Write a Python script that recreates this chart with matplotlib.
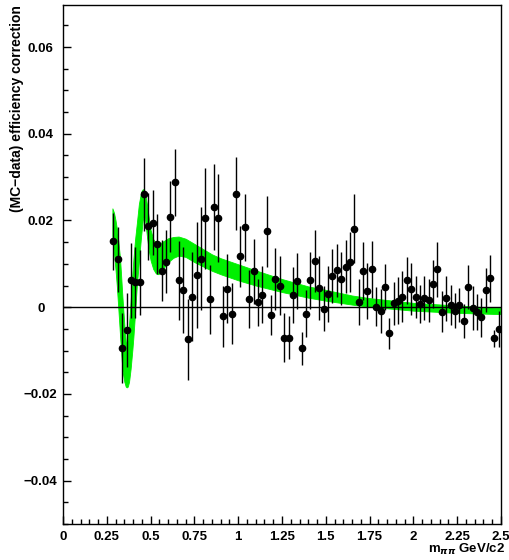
"""
(MC - data) efficiency correction vs m_pipi, with fitted correction band.
"""

import matplotlib
matplotlib.use('Agg')
import matplotlib.pyplot as plt
import matplotlib.ticker as mticker

# ── Data ───────────────────────────────────────────────────────────────────────
mass = [0.2875, 0.3125, 0.3375, 0.3625, 0.3875, 0.4125, 0.4375, 0.4625, 0.4875, 0.5125,
        0.5375, 0.5625, 0.5875, 0.6125, 0.6375, 0.6625, 0.6875, 0.7125, 0.7375, 0.7625,
        0.7875, 0.8125, 0.8375, 0.8625, 0.8875, 0.9125, 0.9375, 0.9625, 0.9875, 1.0125,
        1.0375, 1.0625, 1.0875, 1.1125, 1.1375, 1.1625, 1.1875, 1.2125, 1.2375, 1.2625,
        1.2875, 1.3125, 1.3375, 1.3625, 1.3875, 1.4125, 1.4375, 1.4625, 1.4875, 1.5125,
        1.5375, 1.5625, 1.5875, 1.6125, 1.6375, 1.6625, 1.6875, 1.7125, 1.7375, 1.7625,
        1.7875, 1.8125, 1.8375, 1.8625, 1.8875, 1.9125, 1.9375, 1.9625, 1.9875, 2.0125,
        2.0375, 2.0625, 2.0875, 2.1125, 2.1375, 2.1625, 2.1875, 2.2125, 2.2375, 2.2625,
        2.2875, 2.3125, 2.3375, 2.3625, 2.3875, 2.4125, 2.4375, 2.4625, 2.4875]

corr = [0.0152, 0.0111, -0.0094, -0.0053, 0.0062, 0.0057, 0.0057, 0.0260, 0.0187, 0.0195,
        0.0145, 0.0084, 0.0105, 0.0209, 0.0288, 0.0062, 0.0039, -0.0074, 0.0024, 0.0074,
        0.0112, 0.0205, 0.0018, 0.0231, 0.0206, -0.0021, 0.0043, -0.0015, 0.0262, 0.0117,
        0.0184, 0.0018, 0.0083, 0.0011, 0.0029, 0.0175, -0.0018, 0.0065, 0.0050, -0.0070,
        -0.0070, 0.0028, 0.0060, -0.0095, -0.0015, 0.0062, 0.0106, 0.0044, -0.0004, 0.0030,
        0.0072, 0.0085, 0.0066, 0.0093, 0.0104, 0.0181, 0.0011, 0.0083, 0.0037, 0.0087,
        0.0001, -0.0008, 0.0047, -0.0060, 0.0009, 0.0015, 0.0024, 0.0062, 0.0043, 0.0023,
        0.0008, 0.0021, 0.0016, 0.0054, 0.0087, -0.0010, 0.0021, 0.0005, -0.0008, 0.0005,
        -0.0032, 0.0047, -0.0002, -0.0011, -0.0023, 0.0039, 0.0067, -0.0072, -0.0050]

corr_err = [0.0066, 0.0075, 0.0080, 0.0086, 0.0086, 0.0083, 0.0076, 0.0085, 0.0077, 0.0075,
            0.0069, 0.0070, 0.0073, 0.0082, 0.0078, 0.0091, 0.0099, 0.0094, 0.0103, 0.0122,
            0.0119, 0.0117, 0.0079, 0.0100, 0.0102, 0.0070, 0.0079, 0.0070, 0.0085, 0.0070,
            0.0077, 0.0067, 0.0075, 0.0055, 0.0066, 0.0082, 0.0046, 0.0072, 0.0068, 0.0056,
            0.0050, 0.0064, 0.0065, 0.0038, 0.0054, 0.0065, 0.0071, 0.0073, 0.0052, 0.0065,
            0.0063, 0.0061, 0.0061, 0.0061, 0.0069, 0.0080, 0.0053, 0.0067, 0.0064, 0.0066,
            0.0045, 0.0051, 0.0053, 0.0036, 0.0050, 0.0054, 0.0059, 0.0054, 0.0060, 0.0049,
            0.0044, 0.0050, 0.0050, 0.0056, 0.0064, 0.0047, 0.0052, 0.0047, 0.0040, 0.0039,
            0.0040, 0.0051, 0.0050, 0.0041, 0.0045, 0.0051, 0.0054, 0.0020, 0.0042]

# correction band (lower / upper edge)
band_x = [0.282, 0.291, 0.300, 0.307, 0.316, 0.326, 0.331, 0.339, 0.350, 0.358,
          0.364, 0.370, 0.377, 0.386, 0.396, 0.402, 0.411, 0.421, 0.433, 0.446,
          0.455, 0.462, 0.469, 0.480, 0.490, 0.500, 0.515, 0.530, 0.545, 0.560,
          0.580, 0.600, 0.630, 0.660, 0.700, 0.750, 0.800, 0.850, 0.900, 1.000,
          1.100, 1.250, 1.400, 1.500, 1.650, 1.750, 2.000, 2.250, 2.500]
band_lo = [0.0165, 0.0125, 0.0085, 0.0050, -0.0005, -0.0068, -0.0098, -0.0145, -0.0172, -0.0183,
           -0.0185, -0.0183, -0.0172, -0.0142, -0.0098, -0.0068, -0.0015, 0.0048, 0.0105, 0.0165,
           0.0200, 0.0212, 0.0200, 0.0160, 0.0130, 0.0108, 0.0088, 0.0078, 0.0076, 0.0083,
           0.0094, 0.0104, 0.0114, 0.0119, 0.0116, 0.0104, 0.0094, 0.0084, 0.0076, 0.0062,
           0.0050, 0.0035, 0.0022, 0.0015, 0.0006, 0.0001, -0.0008, -0.0013, -0.0016]
band_hi = [0.0228, 0.0218, 0.0200, 0.0182, 0.0152, 0.0110, 0.0078, 0.0025, -0.0040, -0.0078,
           -0.0092, -0.0072, -0.0040, 0.0015, 0.0078, 0.0112, 0.0155, 0.0192, 0.0238, 0.0266,
           0.0272, 0.0272, 0.0262, 0.0235, 0.0205, 0.0178, 0.0157, 0.0148, 0.0146, 0.0149,
           0.0154, 0.0159, 0.0162, 0.0163, 0.0158, 0.0146, 0.0134, 0.0122, 0.0113, 0.0099,
           0.0085, 0.0065, 0.0048, 0.0040, 0.0027, 0.0021, 0.0010, 0.0004, -0.0002]

# ── Style ──────────────────────────────────────────────────────────────────────
plt.rcParams.update({
    'font.family': 'Liberation Sans',
    'font.weight': 'bold',
    'font.size':   9.5,
    'axes.linewidth': 1.0,
})

W, H = 509, 560
fig = plt.figure(figsize=(W / 100, H / 100), dpi=100)
ax = fig.add_axes([63 / W, 36 / H, 438 / W, 519 / H])

ax.fill_between(band_x, band_lo, band_hi, color='#00f000', ec='#00f000', lw=0.6, zorder=1)
ax.axhline(0, color='black', lw=1.0, zorder=2)
ax.errorbar(mass, corr, yerr=corr_err, fmt='o', color='black', ms=4.5,
            elinewidth=1.0, capsize=0, zorder=3)

ax.set_xlim(0, 2.5)
ax.set_ylim(-0.05, 0.0697)

ax.xaxis.set_major_locator(mticker.MultipleLocator(0.25))
ax.xaxis.set_minor_locator(mticker.MultipleLocator(0.05))
ax.yaxis.set_major_locator(mticker.MultipleLocator(0.02))
ax.yaxis.set_minor_locator(mticker.MultipleLocator(0.005))
ax.xaxis.set_major_formatter(mticker.FuncFormatter(lambda v, _: f'{v:g}'))
ax.yaxis.set_major_formatter(mticker.FuncFormatter(
    lambda v, _: '0' if abs(v) < 1e-9 else f'{v:g}'.replace('-', '\u2212')))

ax.tick_params(which='both', direction='in', top=False, right=False, width=1.0)
ax.tick_params(which='major', length=6)
ax.tick_params(which='minor', length=3.5)
ax.tick_params(axis='x', which='major', pad=5)
ax.tick_params(axis='y', which='major', pad=16)
for lbl in ax.get_yticklabels():
    lbl.set_horizontalalignment('center')

fig.text(505 / W, 1 - 549 / H, r'm$_{\pi\pi}$ GeV/c2', ha='right', va='center',
         fontsize=9.5, fontweight='bold')
fig.text(17 / W, 1 - 5 / H, '(MC\u2212data) efficiency correction', rotation=90,
         ha='center', va='top', fontsize=10, fontweight='bold')

fig.savefig('out.png', dpi=100)
